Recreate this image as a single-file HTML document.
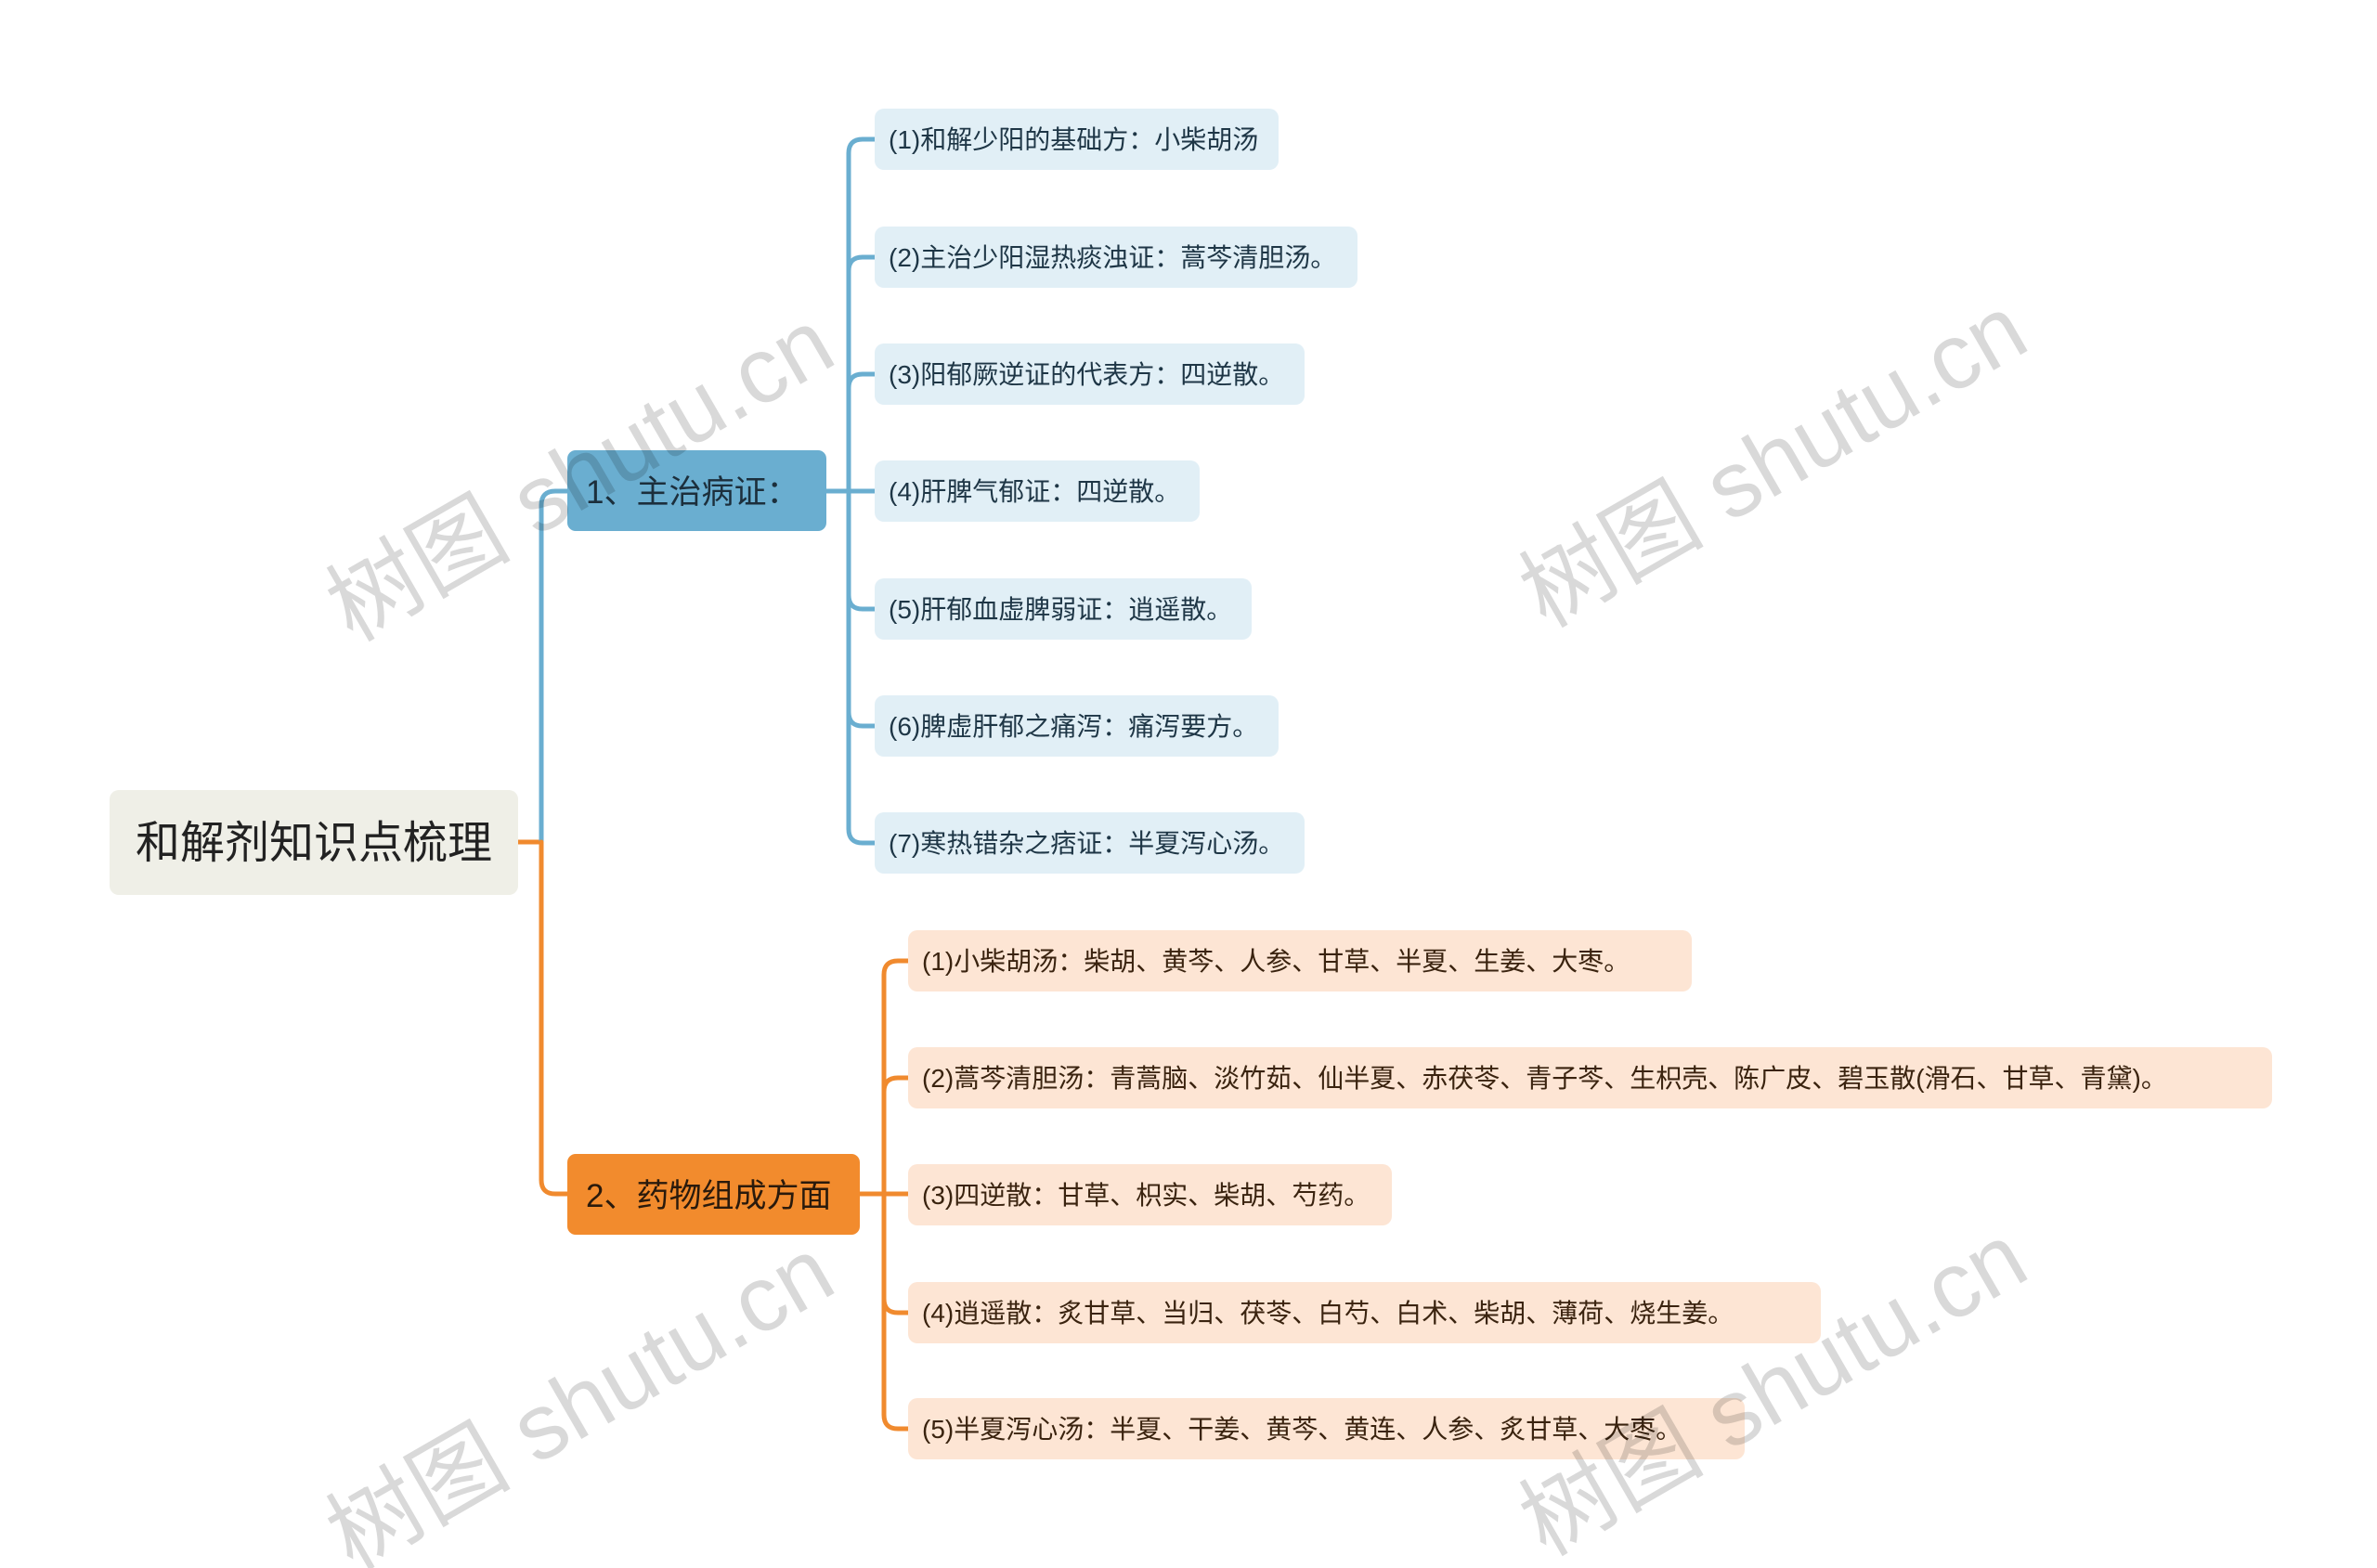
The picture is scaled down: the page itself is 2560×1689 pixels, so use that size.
<!DOCTYPE html>
<html><head><meta charset="utf-8"><style>
html,body{margin:0;padding:0;background:#fff;}
svg{display:block;}
text{font-family:"Liberation Sans","Noto Sans CJK SC",sans-serif;}
</style></head><body>
<svg width="2560" height="1689" viewBox="0 0 2560 1689" xmlns="http://www.w3.org/2000/svg">
<g transform="translate(-3,-4)">
<g fill="none" stroke-width="5" stroke-linecap="round">
<path d="M561 911 H586" stroke="#f08a2e"/>
<path d="M586 911 V548 q0 -15 15 -15 H614" stroke="#6aaed0"/>
<path d="M586 911 V1275 q0 15 15 15 H614" stroke="#f08a2e"/>
<g stroke="#6aaed0">
<path d="M893 533 H917"/>
<path d="M917 533 V169 q0 -15 15 -15 H945"/>
<path d="M917 533 V897 q0 15 15 15 H945"/>
<path d="M917 296 q0 -15 15 -15 H945"/>
<path d="M917 422 q0 -15 15 -15 H945"/>
<path d="M917 533 H945"/>
<path d="M917 645 q0 15 15 15 H945"/>
<path d="M917 771 q0 15 15 15 H945"/>
</g>
<g stroke="#f08a2e">
<path d="M929 1290 H955"/>
<path d="M955 1290 V1054 q0 -15 15 -15 H981"/>
<path d="M955 1290 V1528 q0 15 15 15 H981"/>
<path d="M955 1180 q0 -15 15 -15 H981"/>
<path d="M955 1290 H981"/>
<path d="M955 1403 q0 15 15 15 H981"/>
</g>
</g>
<rect x="121" y="855" width="440" height="113" rx="10" fill="#efefe7"/>
<text x="341" y="928" font-size="48" fill="#222" text-anchor="middle">和解剂知识点梳理</text>
<rect x="614" y="489" width="279" height="87" rx="9" fill="#6aaed0"/>
<text x="634" y="546" font-size="35" fill="#1c2f3c">1、主治病证：</text>
<rect x="614" y="1247" width="315" height="87" rx="9" fill="#f28b2d"/>
<text x="634" y="1304" font-size="35" fill="#2a1a0c">2、药物组成方面</text>
<g font-size="28" fill="#1e3646">
<rect x="945" y="121" width="435" height="66" rx="10" fill="#e1eff6"/><text x="960" y="164">(1)和解少阳的基础方：小柴胡汤</text>
<rect x="945" y="248" width="520" height="66" rx="10" fill="#e1eff6"/><text x="960" y="291">(2)主治少阳湿热痰浊证：蒿芩清胆汤。</text>
<rect x="945" y="374" width="463" height="66" rx="10" fill="#e1eff6"/><text x="960" y="417">(3)阳郁厥逆证的代表方：四逆散。</text>
<rect x="945" y="500" width="350" height="66" rx="10" fill="#e1eff6"/><text x="960" y="543">(4)肝脾气郁证：四逆散。</text>
<rect x="945" y="627" width="406" height="66" rx="10" fill="#e1eff6"/><text x="960" y="670">(5)肝郁血虚脾弱证：逍遥散。</text>
<rect x="945" y="753" width="435" height="66" rx="10" fill="#e1eff6"/><text x="960" y="796">(6)脾虚肝郁之痛泻：痛泻要方。</text>
<rect x="945" y="879" width="463" height="66" rx="10" fill="#e1eff6"/><text x="960" y="922">(7)寒热错杂之痞证：半夏泻心汤。</text>
</g>
<g font-size="28" fill="#3a230f">
<rect x="981" y="1006" width="844" height="66" rx="10" fill="#fde5d4"/><text x="996" y="1049">(1)小柴胡汤：柴胡、黄芩、人参、甘草、半夏、生姜、大枣。</text>
<rect x="981" y="1132" width="1469" height="66" rx="10" fill="#fde5d4"/><text x="996" y="1175">(2)蒿芩清胆汤：青蒿脑、淡竹茹、仙半夏、赤茯苓、青子芩、生枳壳、陈广皮、碧玉散(滑石、甘草、青黛)。</text>
<rect x="981" y="1258" width="521" height="66" rx="10" fill="#fde5d4"/><text x="996" y="1301">(3)四逆散：甘草、枳实、柴胡、芍药。</text>
<rect x="981" y="1385" width="983" height="66" rx="10" fill="#fde5d4"/><text x="996" y="1428">(4)逍遥散：炙甘草、当归、茯苓、白芍、白术、柴胡、薄荷、烧生姜。</text>
<rect x="981" y="1510" width="901" height="66" rx="10" fill="#fde5d4"/><text x="996" y="1553">(5)半夏泻心汤：半夏、干姜、黄芩、黄连、人参、炙甘草、大枣。</text>
</g>
<g font-size="100" fill="rgba(0,0,0,0.15)" font-family="Liberation Serif, Noto Serif CJK SC, serif" text-anchor="middle">
<text transform="translate(645,545) rotate(-30)">树图 shutu.cn</text>
<text transform="translate(1930,530) rotate(-30)">树图 shutu.cn</text>
<text transform="translate(645,1545) rotate(-30)">树图 shutu.cn</text>
<text transform="translate(1930,1530) rotate(-30)">树图 shutu.cn</text>
</g>
</g>
</svg>
</body></html>
